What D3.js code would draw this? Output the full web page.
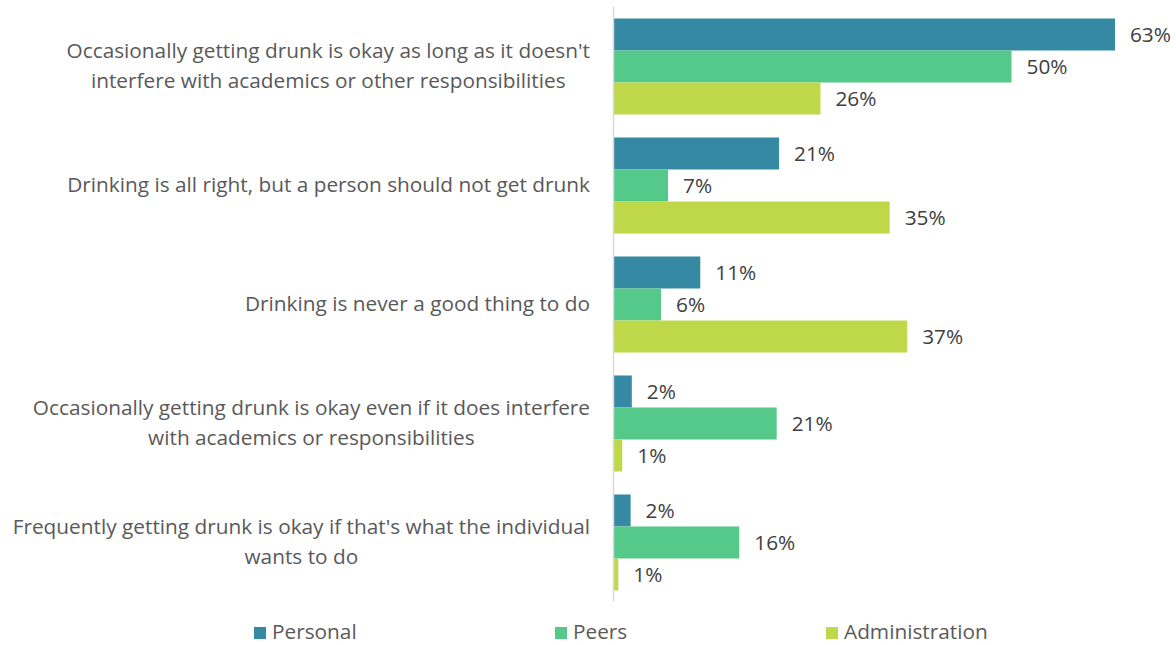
<!DOCTYPE html>
<html><head><meta charset="utf-8">
<script src="https://cdn.jsdelivr.net/npm/d3@7"></script>
<style>body{margin:0;background:#fff;} svg{display:block;font-family:"Open Sans",sans-serif;}</style>
</head><body><svg id="c" width="1176" height="645"></svg>
<script>
const categories = [
  ["Occasionally getting drunk is okay as long as it doesn't", "interfere with academics or other responsibilities"],
  ["Drinking is all right, but a person should not get drunk"],
  ["Drinking is never a good thing to do"],
  ["Occasionally getting drunk is okay even if it does interfere", "with academics or responsibilities"],
  ["Frequently getting drunk is okay if that's what the individual", "wants to do"]
];
const seriesNames = ["Personal", "Peers", "Administration"];
const seriesColors = ["#3589a2", "#54c98a", "#bed84a"];
const personal = [63.0, 20.8, 10.9, 2.3, 2.15];
const peers = [50.0, 6.85, 5.97, 20.5, 15.8];
const administration = [26.0, 34.7, 36.9, 1.1, 0.6];
const seriesValues = [personal, peers, administration];

const svg = d3.select("#c");
const x0 = 613.5;
const x = d3.scaleLinear().domain([0, 70]).range([x0, x0 + 70 * 7.96]);
const y = d3.scaleBand().domain(d3.range(categories.length)).range([7, 602]).paddingInner(0.193).paddingOuter(0.0966);
const ys = d3.scaleBand().domain(d3.range(seriesNames.length)).range([0, y.bandwidth()]);

const fontSize = 20.8;
// bars
seriesValues.forEach((vals, si) => {
  const g = svg.append("g");
  g.selectAll("rect").data(vals).join("rect")
    .attr("x", x(0))
    .attr("y", (d, i) => y(i) + ys(si))
    .attr("width", d => x(d) - x(0))
    .attr("height", ys.bandwidth())
    .attr("fill", seriesColors[si]);
  g.selectAll("text").data(vals).join("text")
    .attr("x", d => x(d) + 15)
    .attr("y", (d, i) => y(i) + ys(si) + ys.bandwidth() / 2)
    .attr("dy", "0.35em")
    .attr("fill", "#404040")
    .attr("font-size", fontSize)
    .text(d => Math.max(1, Math.round(d)) + "%");
});

// axis line
svg.append("line").attr("x1", x0).attr("x2", x0).attr("y1", 7).attr("y2", 601)
  .attr("stroke", "#d9d9d9").attr("stroke-width", 1.5);

// category labels
const lineH = 30;
categories.forEach((lines, i) => {
  const t = svg.append("text").attr("font-size", fontSize).attr("fill", "#595959").attr("text-anchor", "middle");
  const cy = y(i) + y.bandwidth() / 2;
  const n = lines.length;
  const spans = lines.map((l, k) => t.append("tspan").attr("y", cy + (k - (n - 1) / 2) * lineH - 1).attr("dy", "0.35em").text(l));
  const maxW = d3.max(spans, s => s.node().getComputedTextLength());
  spans.forEach(s => s.attr("x", 590 - maxW / 2));
});

// legend
const legendX = [254, 555, 826];
seriesNames.forEach((s, i) => {
  svg.append("rect").attr("x", legendX[i]).attr("y", 627).attr("width", 12).attr("height", 12).attr("fill", seriesColors[i]);
  svg.append("text").attr("x", legendX[i] + 18).attr("y", 639)
    .attr("font-size", fontSize).attr("fill", "#595959").text(s);
});
</script></body></html>
